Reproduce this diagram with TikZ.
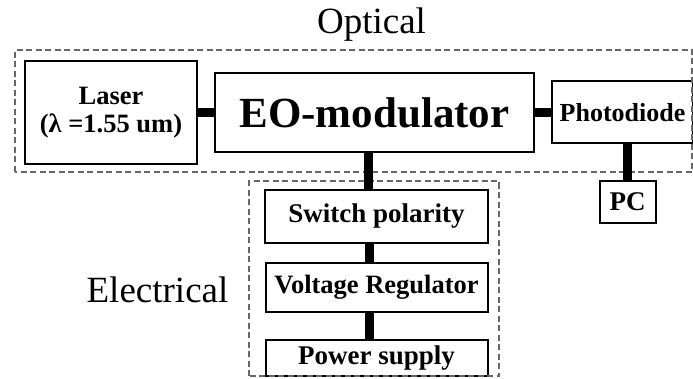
\documentclass[tikz,border=0pt]{standalone}
\usepackage{fontspec}
\setmainfont{Liberation Serif}
\usetikzlibrary{positioning}

\begin{document}
\begin{tikzpicture}[
    x=1pt, y=1pt,
    box/.style={rectangle, draw, line width=2pt, inner sep=0pt, font=\bfseries\fontsize{27}{30}\selectfont},
    frame/.style={draw=black!60, line width=1.2pt, dash pattern=on 6pt off 3.5pt},
    link/.style={line width=9pt},
    title/.style={font=\fontsize{37}{40}\selectfont, anchor=base}
]
    \useasboundingbox (0,0) rectangle (693,378);

    % Optical part
    \node[box, minimum width=172pt, minimum height=103pt, align=center,
          font=\bfseries\fontsize{26.5}{28}\selectfont] (laser) at (111,265.5) {Laser\\(λ =1.55 um)};
    \node[box, right=16pt of laser, minimum width=319pt, minimum height=79pt,
          font=\bfseries\fontsize{43}{48}\selectfont] (eo) {EO-modulator};
    \node[box, right=16pt of eo, minimum width=141pt, minimum height=62pt,
          font=\bfseries\fontsize{26}{28}\selectfont] (pd) {Photodiode};
    \node[box, below=36pt of pd, xshift=5pt, minimum width=56pt, minimum height=41pt] (pc) {PC};

    % Electrical part
    \node[box, below=36pt of eo, xshift=2pt, minimum width=223pt, minimum height=53pt] (sw) {Switch polarity};
    \node[box, below=18pt of sw, minimum width=222pt, minimum height=49pt,
          font=\bfseries\fontsize{26.5}{29}\selectfont] (vr) {Voltage Regulator};
    \node[box, below=26pt of vr, minimum width=222pt, minimum height=36pt] (ps) {Power supply};

    % Frames
    \draw[frame] (15,206) rectangle (692,328);
    \draw[frame] (249,2) rectangle (499,197);
    \node[title] (optical) at (371.5,344) {Optical};
    \node[title] (electrical) at (157.5,76) {Electrical};

    % Links
    \draw[link] (laser) -- (eo);
    \draw[link] (eo) -- (pd);
    \draw[link] ([xshift=-6pt]eo.south) -- ([xshift=-6pt]eo.south |- sw.north);
    \draw[link] (pd.south -| pc.north) -- (pc.north);
    \draw[link] ([xshift=-7pt]sw.south) -- ([xshift=-7pt]vr.north);
    \draw[link] ([xshift=-7pt]vr.south) -- ([xshift=-7pt]ps.north);

\end{tikzpicture}
\end{document}
